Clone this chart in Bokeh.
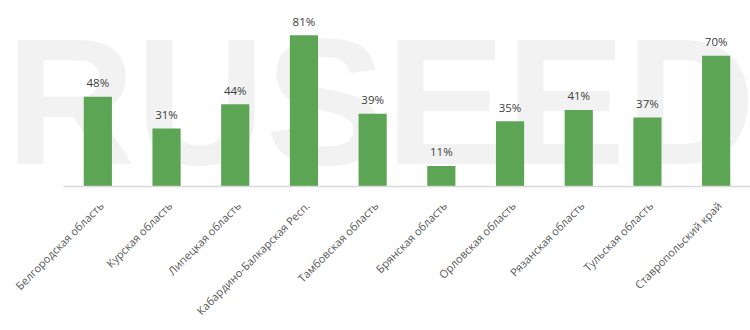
import math
from bokeh.plotting import figure
from bokeh.models import ColumnDataSource, Range1d, FixedTicker
from bokeh.core.properties import value
from bokeh.embed import file_html
from bokeh.resources import INLINE

regions = ["Белгородская область", "Курская область", "Липецкая область",
           "Кабардино-Балкарская Респ.", "Тамбовская область", "Брянская область",
           "Орловская область", "Рязанская область", "Тульская область",
           "Ставропольский край"]
shares = [48, 31, 44, 81, 39, 11, 35, 41, 37, 70]
share_labels = [f"{v}%" for v in shares]
watermark = "RUSEED"

n = len(regions)
pad_left = 0.917
xs = [i + 0.5 for i in range(n)]
label_pos = [x + 0.05 for x in xs]
src = ColumnDataSource(data=dict(x=xs, top=shares, lab=share_labels))

p = figure(width=750, height=330, output_backend="svg", toolbar_location=None,
           x_range=Range1d(-pad_left, n), y_range=Range1d(0, 99.6),
           min_border_left=0, min_border_right=0, min_border_top=0,
           min_border_bottom=144)
p.outline_line_color = None
p.background_fill_color = "white"
p.border_fill_color = "white"

p.text(x=[4.614], y=[45.5], text=[watermark],
       text_font=value("Liberation Sans"), text_font_style="bold",
       text_font_size="180px", text_color="#F2F2F2",
       text_align="center", text_baseline="middle")

p.vbar(x="x", top="top", width=0.41, source=src, fill_color="#5BA555",
       line_color=None)
p.text(x="x", y="top", text="lab", source=src, text_align="center",
       text_baseline="middle", y_offset=-14, text_font=value("Open Sans"),
       text_font_size="11.5px", text_color="#404040")

p.xgrid.visible = False
p.ygrid.visible = False
p.yaxis.visible = False
ax = p.xaxis[0]
ax.ticker = FixedTicker(ticks=label_pos)
ax.major_label_overrides = {x: r for x, r in zip(label_pos, regions)}
ax.bounds = (0, n)
ax.axis_line_color = "#D9D9D9"
ax.axis_line_width = 1.5
ax.major_tick_line_color = None
ax.minor_tick_line_color = None
ax.major_label_orientation = math.pi / 4
ax.major_label_text_font = "Open Sans"
ax.major_label_text_font_size = "11px"
ax.major_label_text_color = "#595959"
ax.major_label_standoff = 11

open("out.html", "w").write(file_html(p, INLINE))
